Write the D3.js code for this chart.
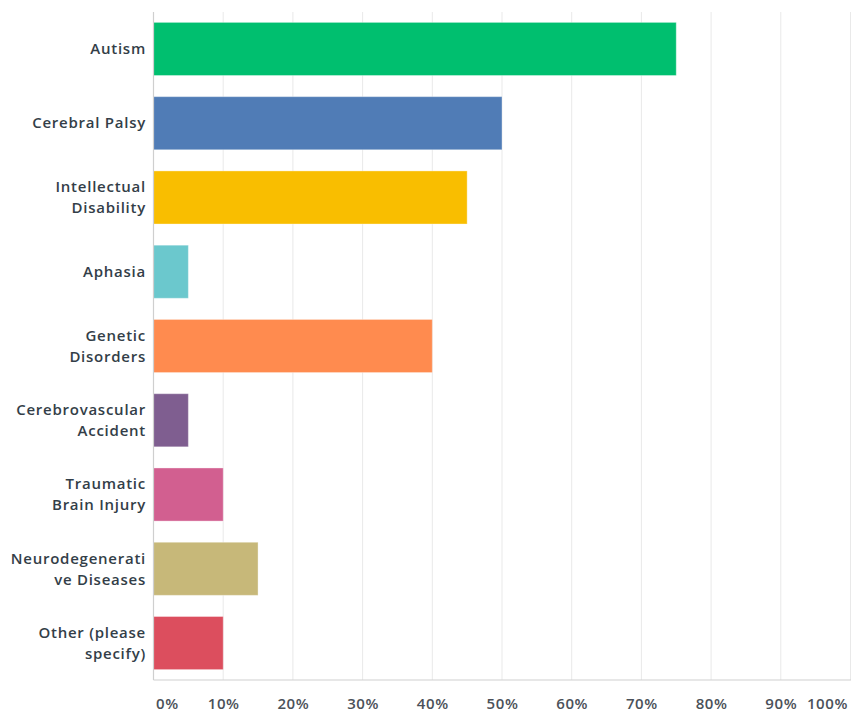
<!DOCTYPE html>
<html>
<head>
<meta charset="utf-8">
<script src="https://cdn.jsdelivr.net/npm/d3@7"></script>
<style>
  html, body { margin: 0; padding: 0; background: #fff; }
  svg { display: block; }
</style>
</head>
<body>
<script>
// Conditions reported, share of respondents (%)
const categories = [
  "Autism", "Cerebral Palsy", "Intellectual Disability", "Aphasia",
  "Genetic Disorders", "Cerebrovascular Accident", "Traumatic Brain Injury",
  "Neurodegenerative Diseases", "Other (please specify)"
];
// Wrapped label lines as displayed next to each bar
const labelLines = [
  ["Autism"], ["Cerebral Palsy"], ["Intellectual", "Disability"], ["Aphasia"],
  ["Genetic", "Disorders"], ["Cerebrovascular", "Accident"], ["Traumatic", "Brain Injury"],
  ["Neurodegenerati", "ve Diseases"], ["Other (please", "specify)"]
];
const values = [75, 50, 45, 5, 40, 5, 10, 15, 10];
const colors = ["#00bf6f", "#507cb6", "#f9be00", "#6bc8cd", "#ff8b4f",
                "#7f5e90", "#d25f90", "#c7b879", "#dc4e5e"];
const tickValues = [0, 10, 20, 30, 40, 50, 60, 70, 80, 90, 100];

const W = 851, H = 713;
const m = { top: 12, right: 0.5, bottom: 33, left: 153.5 };

const svg = d3.select("body").append("svg").attr("width", W).attr("height", H);

const x = d3.scaleLinear().domain([0, 100]).range([m.left, W - m.right]);
const y = d3.scaleBand().domain(categories).range([m.top, H - m.bottom])
  .paddingInner(0.285).paddingOuter(0.14);

// vertical gridlines
svg.append("g").selectAll("line").data(tickValues.slice(1)).join("line")
  .attr("x1", d => x(d)).attr("x2", d => x(d))
  .attr("y1", m.top).attr("y2", H - m.bottom)
  .attr("stroke", "#e9e9e9").attr("stroke-width", 1);

// bars
svg.append("g").selectAll("rect").data(categories).join("rect")
  .attr("x", x(0))
  .attr("y", d => y(d))
  .attr("width", (d, i) => x(values[i]) - x(0))
  .attr("height", y.bandwidth())
  .attr("fill", (d, i) => colors[i])
  .attr("stroke", "rgba(255,255,255,0.35)")
  .attr("stroke-width", 1);

// left axis line and bottom axis line
svg.append("line")
  .attr("x1", x(0)).attr("x2", x(0)).attr("y1", m.top).attr("y2", H - m.bottom)
  .attr("stroke", "#cfcfcf").attr("stroke-width", 1.2);
svg.append("line")
  .attr("x1", x(0)).attr("x2", W).attr("y1", H - m.bottom).attr("y2", H - m.bottom)
  .attr("stroke", "#cfcfcf").attr("stroke-width", 1.2);

// category labels
const lab = svg.append("g")
  .attr("font-family", "'Open Sans', sans-serif")
  .attr("font-weight", 600)
  .attr("font-size", 15)
  .attr("letter-spacing", 0.75)
  .attr("fill", "#333e48")
  .attr("text-anchor", "end");
categories.forEach((c, i) => {
  const lines = labelLines[i];
  const cy = y(c) + y.bandwidth() / 2;
  const lh = 21;
  const t = lab.append("text").attr("x", 146);
  lines.forEach((ln, j) => {
    t.append("tspan").attr("x", 146)
      .attr("y", cy + (j - (lines.length - 1) / 2) * lh)
      .attr("dy", "0.35em").text(ln);
  });
});

// x tick labels (ends kept inside the plot)
const xAxis = d3.axisBottom(x).tickValues(tickValues).tickSize(0).tickPadding(18)
  .tickFormat(d => d + "%");
const gx = svg.append("g").attr("transform", `translate(0,${H - m.bottom})`).call(xAxis);
gx.select(".domain").remove();
gx.selectAll("text")
  .attr("font-family", "'Open Sans', sans-serif")
  .attr("font-size", 15)
  .attr("font-weight", 600)
  .attr("letter-spacing", 0.6)
  .attr("fill", "#4b5159")
  .attr("text-anchor", d => d === 0 ? "start" : d === 100 ? "end" : "middle")
  .attr("dx", d => d === 0 ? 2 : d === 100 ? -3 : 0);
</script>
</body>
</html>
